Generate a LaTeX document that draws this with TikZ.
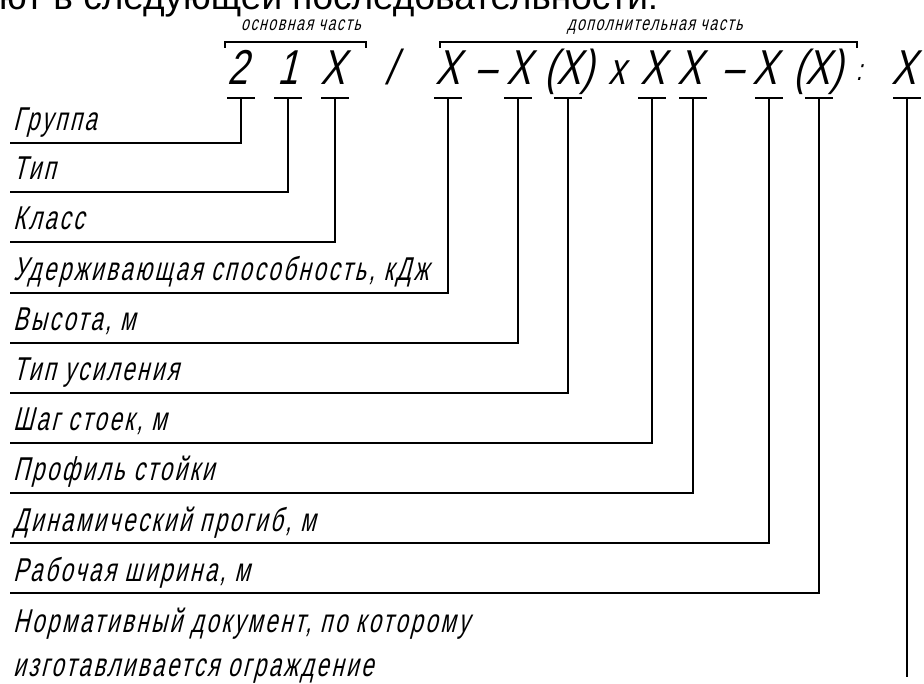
\documentclass[tikz,border=0pt]{standalone}
\usepackage{fontspec}
\setmainfont{Liberation Sans}
% narrow slanted drafting-style lettering
\newfontfamily\gost[FakeSlant=0.25,FakeStretch=0.67,LetterSpace=8]{Liberation Sans}
\newfontfamily\gosthead[FakeSlant=0.25,FakeStretch=0.7,LetterSpace=8]{Liberation Sans}
\newfontfamily\gostwide[FakeSlant=0.25,FakeStretch=0.75]{Liberation Sans}
\newfontfamily\plainsans{Liberation Sans}
\begin{document}
\begin{tikzpicture}[x=1pt,y=-1pt,
  line/.style={line width=1.3pt,black},
  brace/.style={line width=1.1pt,black},
  label/.style={anchor=base west,inner sep=0pt,font=\gost\fontsize{33}{33}\selectfont},
  head/.style={anchor=base,inner sep=0pt,font=\gosthead\fontsize{20}{20}\selectfont},
  sym/.style={anchor=base,inner sep=0pt,font=\gostwide\fontsize{49}{49}\selectfont},
  tee/.style={line width=1.3pt,black}]
\useasboundingbox[fill=white] (0,0) rectangle (924,684);

% tail of the preceding sentence
\node[anchor=base west,inner sep=0pt,font=\plainsans\fontsize{37}{37}\selectfont] (lead) at (-1,10) {ют в следующей последовательности:};

% part headings with their brackets
\node[head] (hmain) at (301,31) {основная часть};
\node[head] (hext) at (655,31) {дополнительная часть};
\coordinate (bm1) at (225,48); \coordinate (bm2) at (366,48);
\coordinate (be1) at (440,48); \coordinate (be2) at (857,48);
\draw[brace] (bm1) -- ++(0,-6) -| (bm2);
\draw[brace] (be1) -- ++(0,-6) -| (be2);

% designation symbols
\node[sym] (s1) at (238,85) {2};
\node[sym] (s2) at (288,85) {1};
\node[sym] (s3) at (333,85) {X};
\node[sym] (s4) at (391,85) {/};
\node[sym] (s5) at (448,85) {X};
\node[sym] (s6) at (486,85) {–};
\node[sym] (s7) at (519,85) {X};
\node[sym] (s8) at (569,85) {(X)};
\node[sym,font=\gostwide\fontsize{45}{45}\selectfont] (s9) at (617,85) {x};
\node[sym] (s10) at (653,85) {X};
\node[sym] (s11) at (690,85) {X};
\node[sym] (s12) at (733,85) {–};
\node[sym] (s13) at (765,85) {X};
\node[sym] (s14) at (818,85) {(X)};
\node[sym,font=\gostwide\fontsize{30}{30}\selectfont] (s15) at (859,81) {:};
\node[sym] (s16) at (904,85) {X};

% tee marks under the positions
\foreach \n/\x in {1/241,2/288,3/335,4/448,5/518,6/568,7/652,8/693,9/769,10/819,11/907}{
  \coordinate (t\n) at (\x,98);
  \draw[tee] ([xshift=-14pt]t\n) -- ([xshift=14pt]t\n);
}

% explanation labels
\node[label] (l1) at (13,131) {Группа};
\node[label] (l2) at (13,180) {Тип};
\node[label] (l3) at (13,230) {Класс};
\node[label] (l4) at (13,281) {Удерживающая способность, кДж};
\node[label] (l5) at (13,331) {Высота, м};
\node[label] (l6) at (13,381) {Тип усиления};
\node[label] (l7) at (13,431) {Шаг стоек, м};
\node[label] (l8) at (13,481) {Профиль стойки};
\node[label] (l9) at (13,531) {Динамический прогиб, м};
\node[label] (l10) at (13,581) {Рабочая ширина, м};
\node[label] (l11) at (13,632) {Нормативный документ, по которому};
\node[label] (l12) at (13,676) {изготавливается ограждение};

% leader lines
\foreach \n/\y in {1/143,2/192,3/242,4/293,5/343,6/393,7/443,8/493,9/543,10/593}{
  \coordinate (e\n) at (10,\y);
  \draw[line] (t\n) |- (e\n);
}
\coordinate (e11) at (907,677);
\draw[line] (t11) -- (e11);
\end{tikzpicture}
\end{document}
